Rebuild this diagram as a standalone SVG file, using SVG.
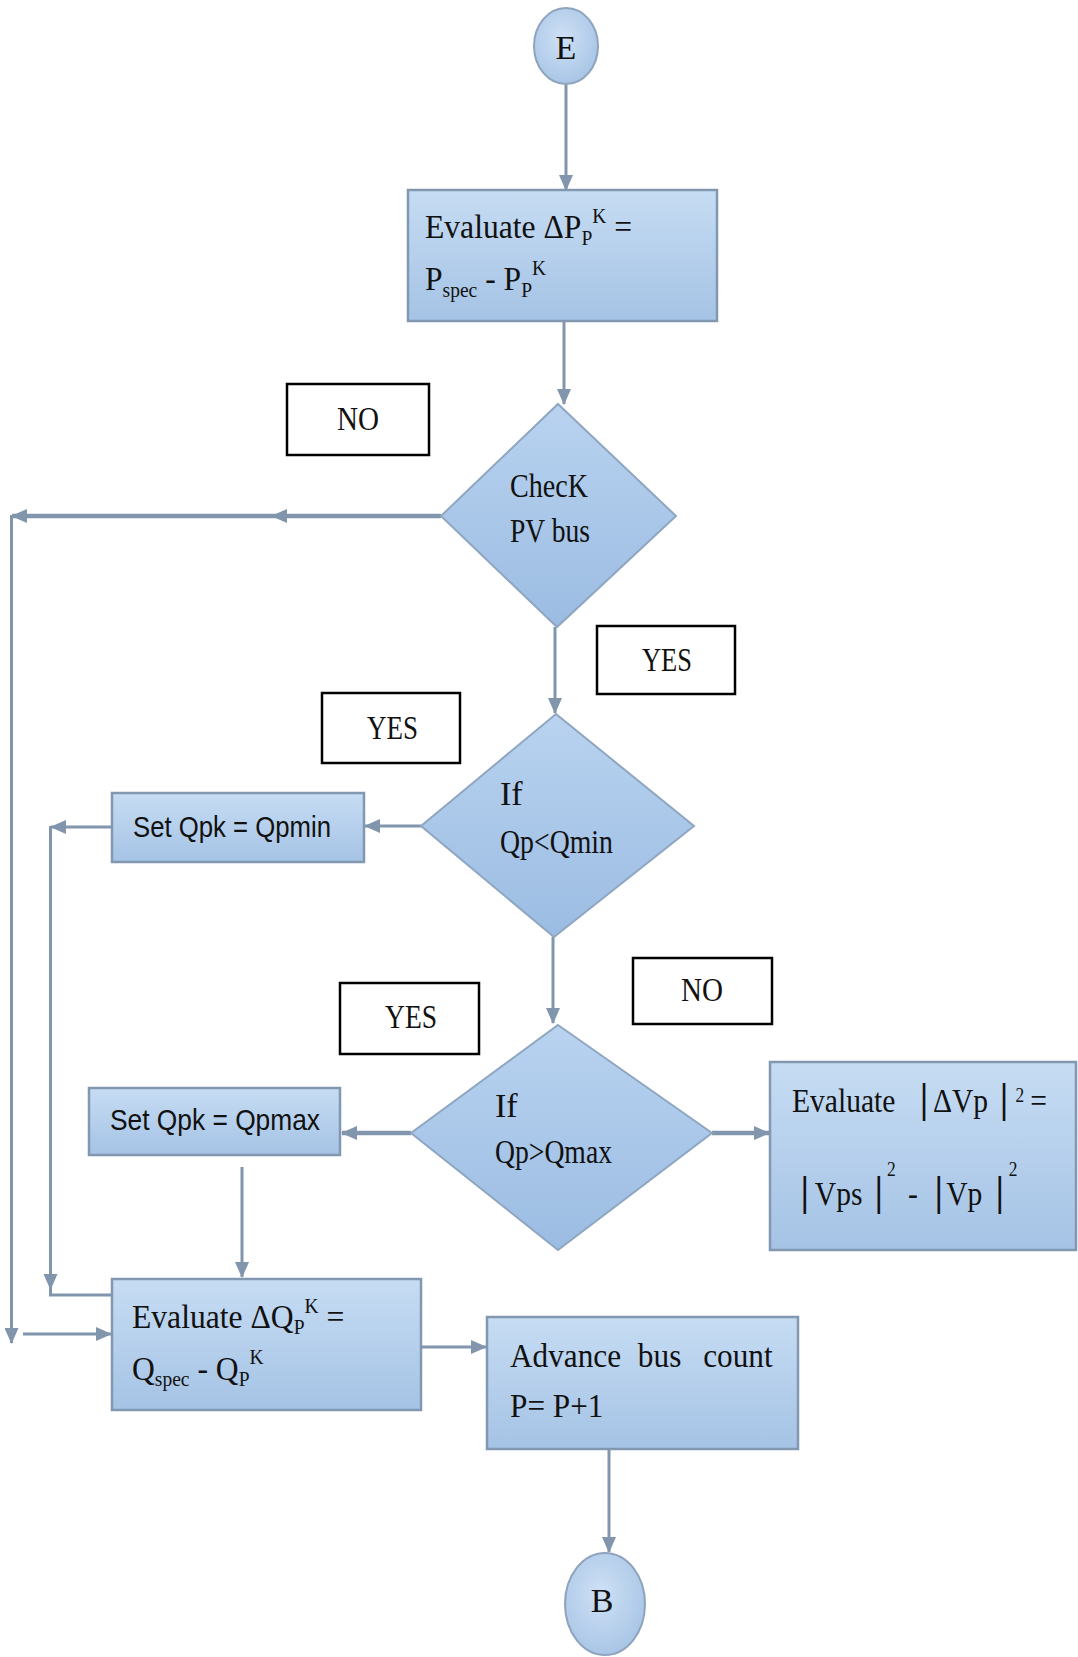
<svg xmlns="http://www.w3.org/2000/svg" width="1078" height="1657" viewBox="0 0 1078 1657">
<defs>
<linearGradient id="gBox" x1="0" y1="0" x2="0" y2="1">
<stop offset="0" stop-color="#c6dcf3"/>
<stop offset="1" stop-color="#a5c3e5"/>
</linearGradient>
<linearGradient id="gDia" x1="0" y1="0" x2="0" y2="1">
<stop offset="0" stop-color="#b9d3f0"/>
<stop offset="1" stop-color="#9bbce2"/>
</linearGradient>
<radialGradient id="gCirc" cx="0.45" cy="0.4" r="0.7">
<stop offset="0" stop-color="#cfe1f5"/>
<stop offset="1" stop-color="#a3c1e4"/>
</radialGradient>
<marker id="ah" markerUnits="userSpaceOnUse" markerWidth="16" markerHeight="14" refX="15" refY="7" orient="auto">
<path d="M0,0 L16,7 L0,14 Z" fill="#8196ad"/>
</marker>
</defs>
<style>
.box{fill:url(#gBox);stroke:#8298b0;stroke-width:2.5}
.dia{fill:url(#gDia);stroke:#8fa6c0;stroke-width:2}
.circ{fill:url(#gCirc);stroke:#8ea4bd;stroke-width:2}
.lbl{fill:#ffffff;stroke:#000000;stroke-width:2.5}
.t{font-family:"Liberation Serif","Times New Roman",serif;font-size:34px;fill:#111}
.s{font-family:"Liberation Sans",Arial,sans-serif;font-size:30px;fill:#111}
.sm{font-size:21px}
.bar{font-size:42px;font-weight:bold}
.c{fill:none;stroke:#8196ad;stroke-width:3}
.cw{fill:none;stroke:#8196ad;stroke-width:4.5}
.a{marker-end:url(#ah)}
</style>
<rect width="1078" height="1657" fill="#ffffff"/>

<g id="connectors">
<line class="c a" x1="566" y1="84" x2="566" y2="190"/>
<line class="c a" x1="564" y1="321" x2="564" y2="404"/>
<line class="cw a" x1="441" y1="516" x2="272" y2="516"/>
<line class="cw a" x1="272" y1="516" x2="12" y2="516"/>
<line class="c a" x1="11.5" y1="515" x2="11.5" y2="1343"/>
<line class="c a" x1="23" y1="1334" x2="111" y2="1334"/>
<line class="c a" x1="555" y1="627" x2="555" y2="713"/>
<line class="c a" x1="421" y1="826" x2="365" y2="826"/>
<line class="c a" x1="112" y1="827" x2="51" y2="827"/>
<line class="c a" x1="50.5" y1="826" x2="50.5" y2="1289"/>
<polyline class="c" points="50.5,1288 50.5,1295 112,1295"/>
<line class="c a" x1="553" y1="937" x2="553" y2="1023"/>
<line class="cw a" x1="411" y1="1133" x2="342" y2="1133"/>
<line class="c a" x1="242" y1="1167" x2="242" y2="1277"/>
<line class="cw a" x1="712" y1="1133" x2="769" y2="1133"/>
<line class="c a" x1="421" y1="1347" x2="486" y2="1347"/>
<line class="c a" x1="609" y1="1449" x2="609" y2="1552"/>
</g>

<g id="start-E">
<ellipse class="circ" cx="566" cy="46" rx="32" ry="38"/>
<text class="t" x="566" y="59" text-anchor="middle" font-size="32">E</text>
</g>

<g id="eval-dP">
<rect class="box" x="408" y="190" width="309" height="131"/>
<text class="t" transform="matrix(0.93 0 0 1 425 238)"><tspan>Evaluate ΔP</tspan><tspan class="sm" y="7">P</tspan><tspan class="sm" y="-15">K</tspan><tspan y="0"> =</tspan></text>
<text class="t" transform="matrix(0.93 0 0 1 425 290)"><tspan>P</tspan><tspan class="sm" y="7">spec</tspan><tspan y="0"> - P</tspan><tspan class="sm" y="7">P</tspan><tspan class="sm" y="-15">K</tspan></text>
</g>

<g id="label-no-1">
<rect class="lbl" x="287" y="384" width="142" height="71"/>
<text class="t" x="337" y="430" textLength="42" lengthAdjust="spacingAndGlyphs">NO</text>
</g>

<g id="check-pv">
<polygon class="dia" points="558,404 676,516 557,627 441,516"/>
<text class="t" x="510" y="497" textLength="78" lengthAdjust="spacingAndGlyphs">ChecK</text>
<text class="t" x="510" y="542" textLength="80" lengthAdjust="spacingAndGlyphs">PV bus</text>
</g>

<g id="label-yes-1">
<rect class="lbl" x="597" y="626" width="138" height="68"/>
<text class="t" x="642" y="671" textLength="50" lengthAdjust="spacingAndGlyphs">YES</text>
</g>

<g id="label-yes-2">
<rect class="lbl" x="322" y="693" width="138" height="70"/>
<text class="t" x="367" y="739" textLength="51" lengthAdjust="spacingAndGlyphs">YES</text>
</g>

<g id="if-qmin">
<polygon class="dia" points="556,714 694,826 554,937 421,826"/>
<text class="t" x="500" y="805">If</text>
<text class="t" x="500" y="853" textLength="113" lengthAdjust="spacingAndGlyphs">Qp&lt;Qmin</text>
</g>

<g id="set-qmin">
<rect class="box" x="112" y="793" width="252" height="69"/>
<text class="s" x="133" y="837" textLength="198" lengthAdjust="spacingAndGlyphs">Set Qpk = Qpmin</text>
</g>

<g id="label-no-2">
<rect class="lbl" x="633" y="958" width="139" height="66"/>
<text class="t" x="681" y="1001" textLength="42" lengthAdjust="spacingAndGlyphs">NO</text>
</g>

<g id="label-yes-3">
<rect class="lbl" x="340" y="983" width="139" height="71"/>
<text class="t" x="385" y="1028" textLength="52" lengthAdjust="spacingAndGlyphs">YES</text>
</g>

<g id="if-qmax">
<polygon class="dia" points="558,1025 712,1133 558,1250 411,1133"/>
<text class="t" x="495" y="1117">If</text>
<text class="t" x="495" y="1163" textLength="117" lengthAdjust="spacingAndGlyphs">Qp&gt;Qmax</text>
</g>

<g id="set-qmax">
<rect class="box" x="89" y="1088" width="251" height="67"/>
<text class="s" x="110" y="1130" textLength="210" lengthAdjust="spacingAndGlyphs">Set Qpk = Qpmax</text>
</g>

<g id="eval-dV">
<rect class="box" x="770" y="1062" width="306" height="188"/>
<text class="t" font-size="36" transform="matrix(0.87 0 0 1 792 1112)"><tspan x="0">Evaluate</tspan><tspan class="bar" x="147">|</tspan><tspan x="162">ΔVp</tspan><tspan class="bar" x="239">|</tspan><tspan x="257" y="-10" font-size="20">2</tspan><tspan x="274" y="0">=</tspan></text>
<text class="t" font-size="36" transform="matrix(0.87 0 0 1 800 1205)"><tspan class="bar" x="1">|</tspan><tspan x="17">Vps</tspan><tspan class="bar" x="86">|</tspan><tspan x="100" y="-29" font-size="20">2</tspan><tspan x="124" y="0">-</tspan><tspan class="bar" x="155">|</tspan><tspan x="168">Vp</tspan><tspan class="bar" x="225">|</tspan><tspan x="240" y="-29" font-size="20">2</tspan></text>
</g>

<g id="eval-dQ">
<rect class="box" x="112" y="1279" width="309" height="131"/>
<text class="t" transform="matrix(0.93 0 0 1 132 1328)"><tspan>Evaluate ΔQ</tspan><tspan class="sm" y="6">P</tspan><tspan class="sm" y="-15">K</tspan><tspan y="0"> =</tspan></text>
<text class="t" transform="matrix(0.93 0 0 1 132 1380)"><tspan>Q</tspan><tspan class="sm" y="6">spec</tspan><tspan y="0"> - Q</tspan><tspan class="sm" y="6">P</tspan><tspan class="sm" y="-16">K</tspan></text>
</g>

<g id="advance">
<rect class="box" x="487" y="1317" width="311" height="132"/>
<text class="t" transform="matrix(0.92 0 0 1 510 1367)"><tspan x="0">Advance</tspan><tspan x="139">bus</tspan><tspan x="210">count</tspan></text>
<text class="t" transform="matrix(0.92 0 0 1 510 1417)">P= P+1</text>
</g>

<g id="end-B">
<ellipse class="circ" cx="605" cy="1604" rx="40" ry="51"/>
<text class="t" x="602" y="1612" text-anchor="middle" font-size="32">B</text>
</g>
</svg>
